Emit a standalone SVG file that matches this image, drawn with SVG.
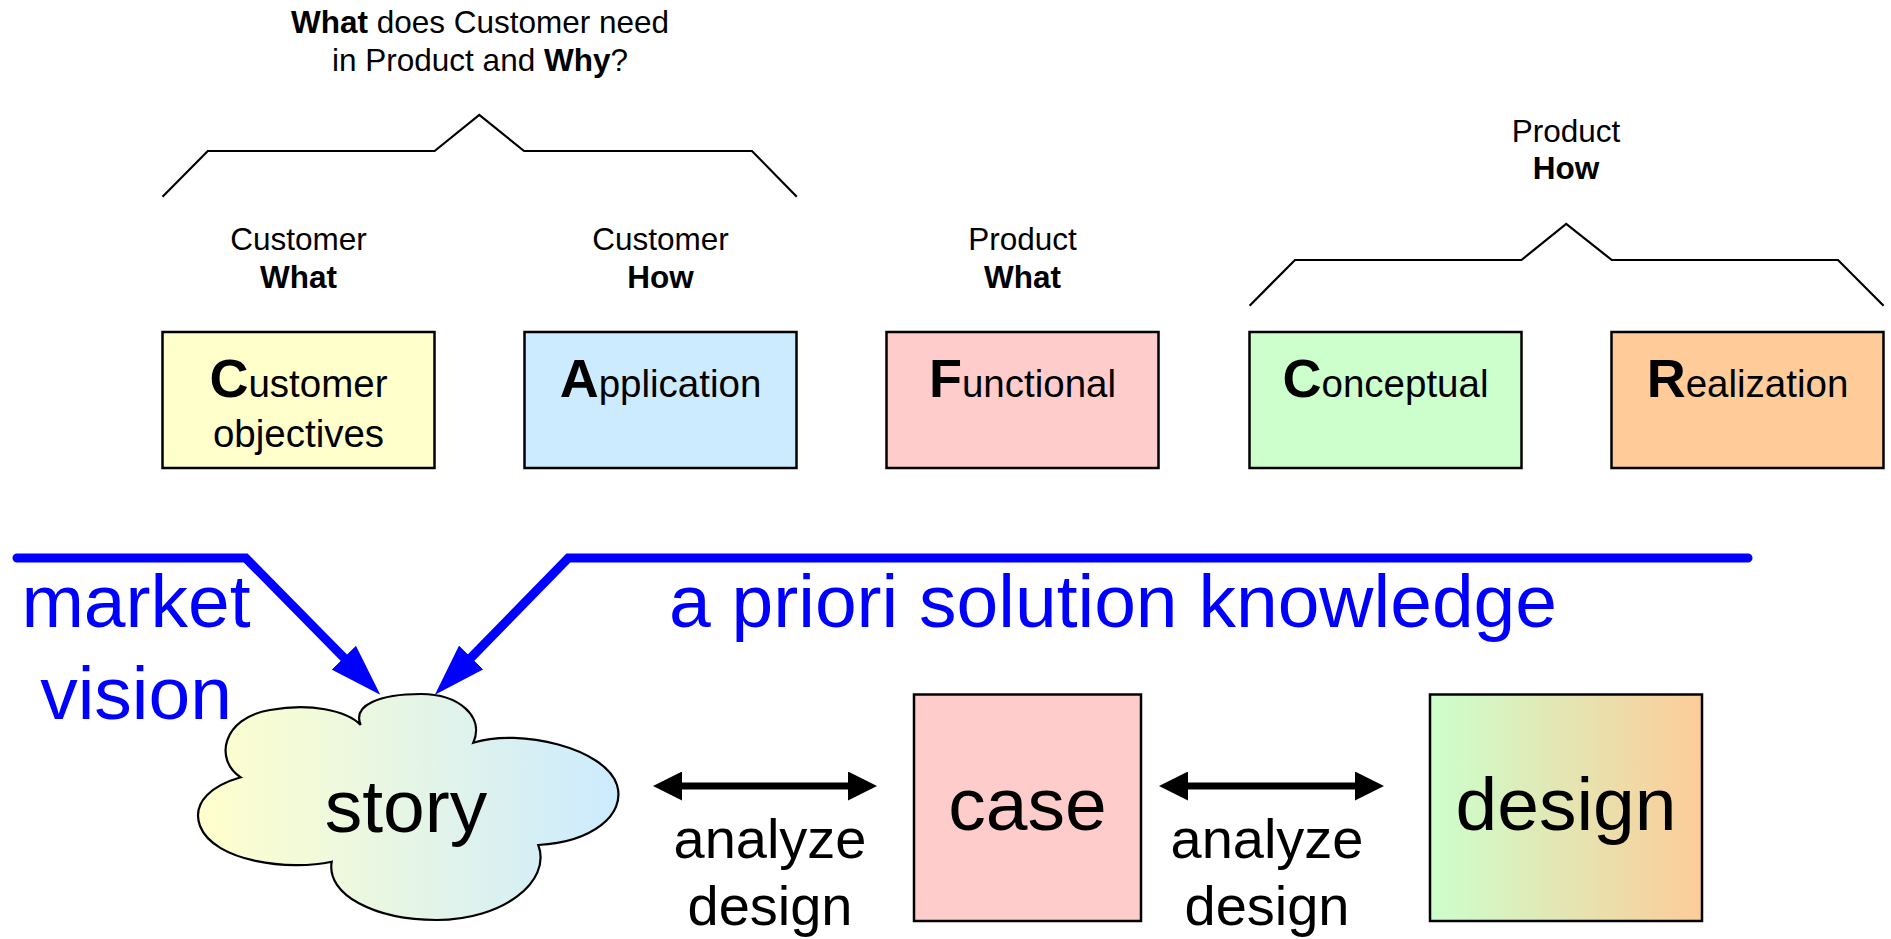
<svg xmlns="http://www.w3.org/2000/svg" width="1891" height="939" viewBox="0 0 1891 939">
<style>
text{font-family:"Liberation Sans",Arial,sans-serif;fill:#000}
.lbl{font-size:31.5px;text-anchor:middle}
.b{font-weight:bold}
.box{stroke:#000;stroke-width:2.5}
.bt{font-size:38.5px;text-anchor:middle}
.big{font-size:54px;font-weight:bold}
.brace{fill:none;stroke:#000;stroke-width:2.2}
.blue{fill:none;stroke:#0000FF;stroke-width:9;stroke-linecap:round;stroke-linejoin:miter}
.bluet{font-size:75px;fill:#0000FF}
.huge{font-size:75px;text-anchor:middle}
.dbl{fill:none;stroke:#000;stroke-width:7}
.mid{font-size:56px;text-anchor:middle}
</style>
<defs>
<linearGradient id="gCloud" x1="0" y1="0" x2="1" y2="0">
<stop offset="0" stop-color="#FFFFCC"/><stop offset="1" stop-color="#CCEBFF"/>
</linearGradient>
<linearGradient id="gDesign" x1="0" y1="0" x2="1" y2="0">
<stop offset="0" stop-color="#CCFFCC"/><stop offset="1" stop-color="#FCCC99"/>
</linearGradient>
<marker id="blueHead" markerUnits="userSpaceOnUse" viewBox="0 0 52 34" refX="0" refY="17" markerWidth="52" markerHeight="34" orient="auto">
<path d="M0,0 L52,17 L0,34 Z" fill="#0000FF"/>
</marker>
<marker id="blackHead" markerUnits="userSpaceOnUse" viewBox="0 0 29 29" refX="0" refY="14.5" markerWidth="29" markerHeight="29" orient="auto-start-reverse">
<path d="M0,0 L29,14.5 L0,29 Z" fill="#000"/>
</marker>
</defs>

<g id="top-question">
<text class="lbl" x="480" y="33"><tspan class="b">What</tspan> does Customer need</text>
<text class="lbl" x="480" y="71">in Product and <tspan class="b">Why</tspan>?</text>
</g>
<g id="brackets">
<path class="brace" d="M162.5,196.7 L207.8,151 L434.6,151 L479.3,115 L524.1,151 L752,151 L796.8,196.7"/>
<path class="brace" d="M1249.6,305.7 L1295,260 L1521.4,260 L1566.2,224 L1611.8,260 L1838,260 L1883.6,305.7"/>
</g>
<g id="product-how-label">
<text class="lbl" x="1566" y="141.5">Product</text>
<text class="lbl b" x="1566" y="179">How</text>
</g>

<g id="customer-objectives">
<text class="lbl" x="298.5" y="250">Customer</text>
<text class="lbl b" x="298.5" y="287.5">What</text>
<rect class="box" x="162.5" y="332" width="272" height="136" fill="#FFFFCC"/>
<text class="bt" x="298.5" y="397"><tspan class="big">C</tspan>ustomer</text>
<text class="bt" x="298.5" y="447">objectives</text>
</g>
<g id="application">
<text class="lbl" x="660.5" y="250">Customer</text>
<text class="lbl b" x="660.5" y="287.5">How</text>
<rect class="box" x="524.5" y="332" width="272" height="136" fill="#CCEBFF"/>
<text class="bt" x="660.5" y="397"><tspan class="big">A</tspan>pplication</text>
</g>
<g id="functional">
<text class="lbl" x="1022.5" y="250">Product</text>
<text class="lbl b" x="1022.5" y="287.5">What</text>
<rect class="box" x="886.5" y="332" width="272" height="136" fill="#FFCCCC"/>
<text class="bt" x="1022.5" y="397"><tspan class="big">F</tspan>unctional</text>
</g>
<g id="conceptual">
<rect class="box" x="1249.5" y="332" width="272" height="136" fill="#CCFFCC"/>
<text class="bt" x="1385.5" y="397"><tspan class="big">C</tspan>onceptual</text>
</g>
<g id="realization">
<rect class="box" x="1611.5" y="332" width="272" height="136" fill="#FFCC99"/>
<text class="bt" x="1747.5" y="397"><tspan class="big">R</tspan>ealization</text>
</g>

<g id="market-vision">
<text class="bluet" x="136" y="626.5" text-anchor="middle">market</text>
<text class="bluet" x="136" y="718.5" text-anchor="middle">vision</text>
</g>
<g id="a-priori">
<text class="bluet" x="1113" y="626.5" text-anchor="middle">a priori solution knowledge</text>
</g>

<g id="story">
<path d="M360.7,725 C352,705 380,694 421,694 C458,694 485,716 473.3,742.7 C520,728 605,748 617,785 C626,815 592,842 538.3,845 C552,882 502,920 436.7,920 C375,920 326,895 331.7,861.7 C290,871 214,862 200,826 C191,801 214,785 240.7,777.3 C214,760 222,718 270,710 C310,703 346,710 360.7,725 Z" fill="url(#gCloud)" stroke="#000" stroke-width="2.2"/>
<text class="huge" x="406" y="831.5">story</text>
</g>
<g id="case">
<rect class="box" x="914" y="694.5" width="227" height="226.5" fill="#FFCCCC"/>
<text class="huge" x="1027.5" y="830">case</text>
</g>
<g id="design">
<rect class="box" x="1430" y="694.5" width="272" height="226.5" fill="url(#gDesign)"/>
<text class="huge" x="1566" y="830">design</text>
</g>

<g id="connectors">
<path class="blue" d="M17,558 L245.7,558 L343.8,657.7" marker-end="url(#blueHead)"/>
<path class="blue" d="M1748,558 L568.3,558 L471.2,657.5" marker-end="url(#blueHead)"/>
<path class="dbl" d="M682,786 L848,786" marker-start="url(#blackHead)" marker-end="url(#blackHead)"/>
<path class="dbl" d="M1188,786 L1355,786" marker-start="url(#blackHead)" marker-end="url(#blackHead)"/>
<text class="mid" x="770" y="858">analyze</text>
<text class="mid" x="770" y="925">design</text>
<text class="mid" x="1267" y="858">analyze</text>
<text class="mid" x="1267" y="925">design</text>
</g>
</svg>
